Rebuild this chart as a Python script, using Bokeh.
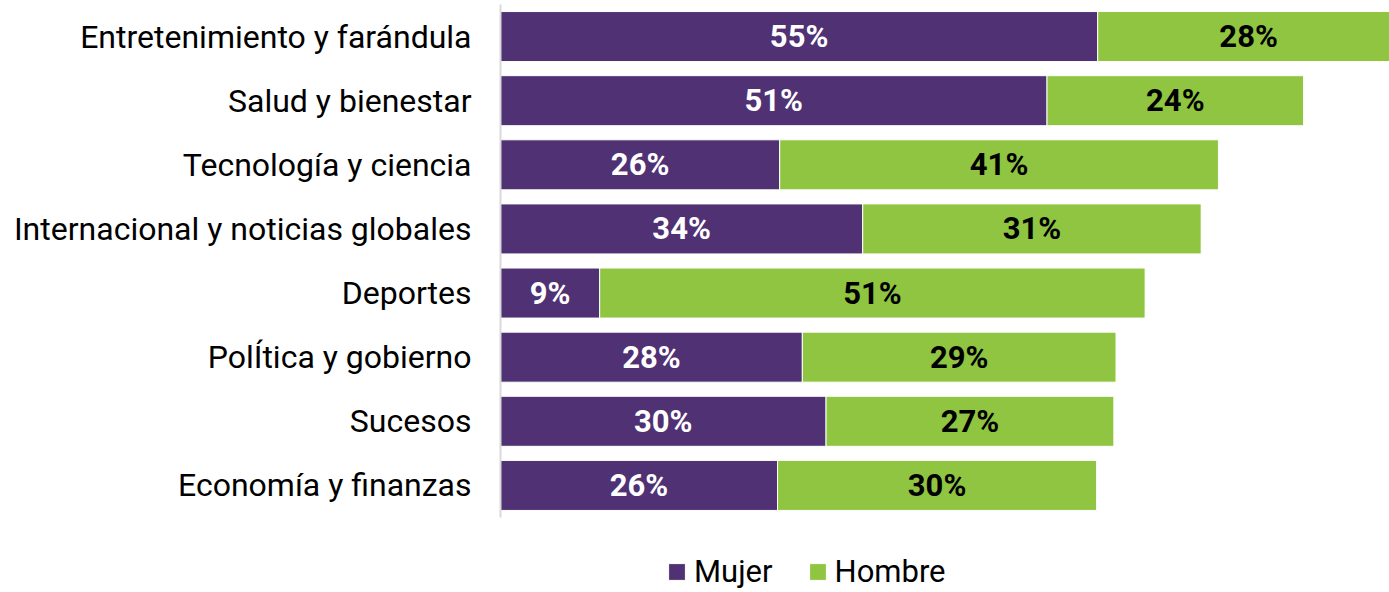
from bokeh.plotting import figure
from bokeh.models import ColumnDataSource, Range1d, Legend, LegendItem, FixedTicker
from bokeh.embed import file_html
from bokeh.resources import INLINE
from bokeh.core.properties import value

categories = ["Entretenimiento y farándula", "Salud y bienestar", "Tecnología y ciencia",
              "Internacional y noticias globales", "Deportes", "PolÍtica y gobierno",
              "Sucesos", "Economía y finanzas"]
mujer = [55.4, 50.7, 25.9, 33.6, 9.2, 28.0, 30.2, 25.7]
hombre = [28.0, 23.8, 40.7, 31.4, 50.6, 29.1, 26.7, 29.6]
series_names = ["Mujer", "Hombre"]

PURPLE = "#4F3174"
GREEN = "#8FC540"
FONT = "Roboto"

n = len(categories)
ypos = [n - 1 - i for i in range(n)]  # first category on top
total = [m + h for m, h in zip(mujer, hombre)]
src = ColumnDataSource(dict(
    y=ypos, mujer=mujer, hombre=hombre, total=total,
    mid_m=[m / 2 for m in mujer],
    mid_h=[m + h / 2 for m, h in zip(mujer, hombre)],
    lab_m=[f"{round(m)}%" for m in mujer],
    lab_h=[f"{round(h)}%" for h in hombre],
))

p = figure(width=1389, height=592, output_backend="svg", toolbar_location=None,
           y_range=Range1d(-1.67, n - 0.5),
           x_range=Range1d(0, 82.47),
           min_border_left=500, min_border_right=0, min_border_top=4, min_border_bottom=0)

r1 = p.hbar(y="y", left=0, right="mujer", height=0.78, fill_color=PURPLE,
            line_color="white", line_width=1, source=src)
r2 = p.hbar(y="y", left="mujer", right="total", height=0.78, fill_color=GREEN,
            line_color="white", line_width=1, source=src)

p.text(x="mid_m", y="y", text="lab_m", source=src, text_align="center",
       text_baseline="middle", text_font=value(FONT), text_font_size="31px",
       text_font_style="bold", text_color="white")
p.text(x="mid_h", y="y", text="lab_h", source=src, text_align="center",
       text_baseline="middle", text_font=value(FONT), text_font_size="31px",
       text_font_style="bold", text_color="black")

p.xaxis.visible = False
p.xgrid.visible = False
p.ygrid.visible = False
p.outline_line_color = None

ya = p.yaxis[0]
ya.ticker = FixedTicker(ticks=ypos)
ya.major_label_overrides = {y: c for y, c in zip(ypos, categories)}
ya.bounds = (-0.5, n - 0.5)
ya.axis_line_color = "#d9d9d9"
ya.axis_line_width = 2
ya.major_tick_line_color = None
ya.minor_tick_line_color = None
ya.major_tick_out = 0
ya.major_tick_in = 0
ya.major_label_standoff = 29
ya.major_label_text_font = FONT
ya.major_label_text_font_size = "32px"
ya.major_label_text_color = "black"

legend = Legend(items=[LegendItem(label=series_names[0], renderers=[r1]),
                       LegendItem(label=series_names[1], renderers=[r2])],
                orientation="horizontal", location=(166, 2),
                padding=0, margin=0, spacing=34, glyph_width=21, glyph_height=21,
                label_height=17, label_standoff=7,
                label_text_font=FONT, label_text_font_size="31px",
                label_text_color="black", label_text_baseline="middle",
                border_line_alpha=0, background_fill_alpha=0)
p.add_layout(legend)

open("out.html", "w").write(file_html(p, INLINE))
